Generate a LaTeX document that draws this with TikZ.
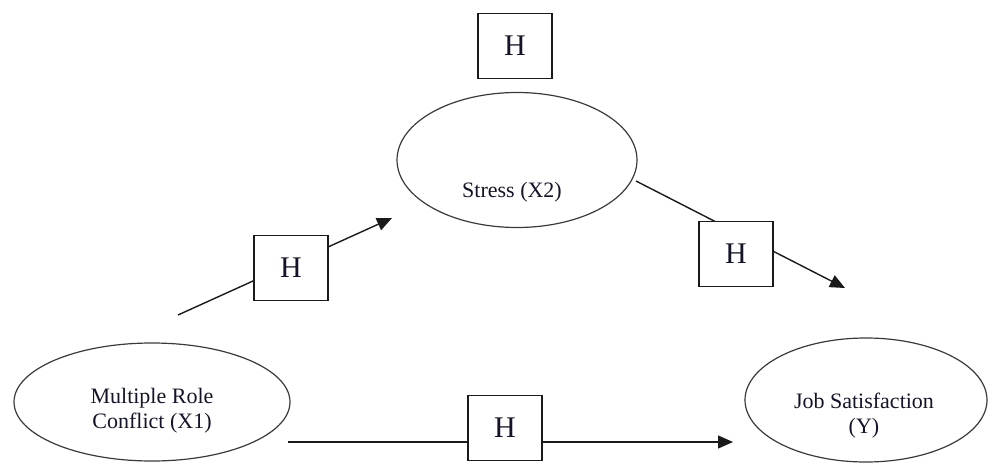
\documentclass[tikz,border=0pt]{standalone}
\usepackage{fontspec}
\setmainfont{Liberation Serif}
\usetikzlibrary{shapes.geometric,arrows.meta}
\definecolor{rcEdge}{HTML}{1A1A1A}
\definecolor{rcOval}{HTML}{3A3A3A}
\definecolor{rcText}{HTML}{141428}
\tikzset{
  rcvar/.style={draw=rcOval,line width=1.2pt,ellipse,inner sep=0pt},
  rctxt/.style={align=center,text=rcText,inner sep=0pt,font=\fontsize{22}{25}\selectfont},
  rchyp/.style={draw=rcEdge,line width=1.5pt,fill=white,minimum width=74pt,minimum height=65pt,
                inner sep=0pt,text=rcText,font=\fontsize{30}{34}\selectfont},
  rcflow/.style={-{Triangle[length=15pt,width=13pt]},draw=rcEdge,line width=1.4pt},
}
\begin{document}
\begin{tikzpicture}[x=1pt,y=-1pt]
  \useasboundingbox (0,0) rectangle (991,463);

  \node[rcvar,minimum width=276pt,minimum height=118pt] (X1) at (152,402) {};
  \node[rcvar,minimum width=240pt,minimum height=135pt] (X2) at (517,160) {};
  \node[rcvar,minimum width=242pt,minimum height=124pt] (Y) at (866,400) {};
  \node[rctxt] (X1t) at (152,411) {Multiple Role\\Conflict (X1)};
  \node[rctxt] (X2t) at (512,192) {Stress (X2)};
  \node[rctxt] (Yt) at (864,416) {Job Satisfaction\\(Y)};

  \coordinate (a1) at (178,315);
  \coordinate (a2) at (392,218);
  \coordinate (b1) at (636,181);
  \coordinate (b2) at (845,288);
  \coordinate (c1) at (288,442);
  \coordinate (c2) at (733,442);
  \draw[rcflow] (a1) -- (a2);
  \draw[rcflow] (b1) -- (b2);
  \draw[rcflow] (c1) -- (c2);

  \node[rchyp] (H0) at (515,46) {H};
  \node[rchyp] (H1) at (291,268) {H};
  \node[rchyp] (H2) at (736,254) {H};
  \node[rchyp] (H3) at (505,428) {H};
\end{tikzpicture}
\end{document}
